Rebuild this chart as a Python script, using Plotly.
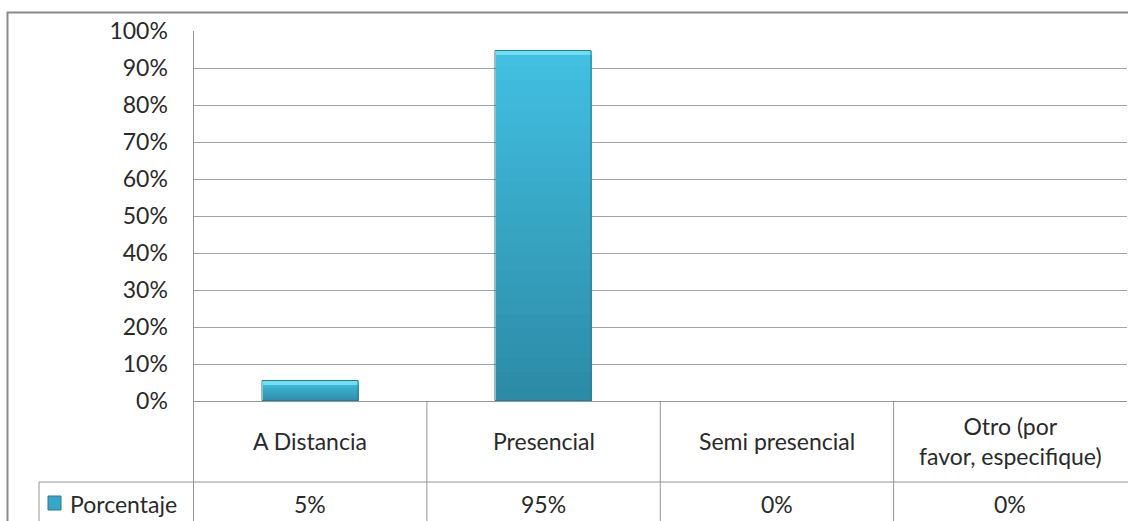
import plotly.graph_objects as go

categories = ["A Distancia", "Presencial", "Semi presencial", "Otro (por<br>favor, especifique)"]
values = [5.4, 94.6, 0, 0]
series_name = "Porcentaje"
y_ticks = [0, 10, 20, 30, 40, 50, 60, 70, 80, 90, 100]
y_tick_text = [f"{t}%" for t in y_ticks]
value_labels = [f"{round(v)}%" for v in values]

W, H = 1128, 521
FONT = "Lato"
TXT = "#2a2a2a"
GRID = "#A3A3A3"
LINE = "#959595"
BAR = "#37A7C7"
BAR_EDGE = "#2A7A90"
TOP_RGB = (66, 192, 226)
BOT_RGB = (44, 138, 165)
CAP_COLOR = "#6EDEF3"
BAR_W = 0.41

idx = list(range(len(categories)))
cap = 1.0
n_slices = 24

fig = go.Figure()

# gradient body of each bar: the bar is split into equal slices of its own value
for k in range(n_slices):
    t = (k + 0.5) / n_slices
    rgb = tuple(round(BOT_RGB[j] + (TOP_RGB[j] - BOT_RGB[j]) * t) for j in range(3))
    fig.add_trace(go.Bar(
        x=idx, y=[v / n_slices for v in values],
        base=[v * k / n_slices for v in values],
        width=BAR_W, marker=dict(color=f"rgb{rgb}", line=dict(width=0)),
        showlegend=False, hoverinfo="skip",
    ))

# top bevel
pos = [i for i, v in zip(idx, values) if v > 0]
fig.add_trace(go.Bar(
    x=pos, y=[cap for v in values if v > 0],
    base=[v - cap for v in values if v > 0],
    width=BAR_W, marker=dict(color=CAP_COLOR, line=dict(width=0)),
    showlegend=False, hoverinfo="skip",
))

# outline of the series bars
fig.add_trace(go.Bar(
    x=idx, y=values, width=BAR_W, name=series_name,
    marker=dict(color="rgba(0,0,0,0)",
                line=dict(color=BAR_EDGE, width=[1 if v > 0 else 0 for v in values])),
    showlegend=False,
))

x0p, x1p = 193.5 / W, 1127 / W
y0p, y1p = (H - 401.3) / H, (H - 31) / H
row1_bottom = (H - 482) / H
row2_mid = (H - 504) / H

fig.update_layout(
    width=W, height=H, margin=dict(l=0, r=0, t=0, b=0, autoexpand=False),
    paper_bgcolor="white", plot_bgcolor="white",
    barmode="overlay", bargap=0,
    font=dict(family=FONT, size=23, color=TXT),
    xaxis=dict(domain=[x0p, x1p], range=[-0.5, 3.5], showticklabels=False,
               showgrid=False, zeroline=False, showline=True, linecolor=LINE,
               linewidth=1, fixedrange=True, automargin=False),
    yaxis=dict(domain=[y0p, y1p], range=[0, 100], tickvals=y_ticks,
               ticktext=y_tick_text, showgrid=True, gridcolor=GRID, gridwidth=1,
               zeroline=False, showline=True, linecolor=LINE, linewidth=1,
               ticks="", ticklabelstandoff=20, tickfont=dict(size=23, color=TXT),
               fixedrange=True, automargin=False),
    showlegend=False,
)

# category labels and values in data table
for i, c in enumerate(categories):
    fig.add_annotation(x=i, y=(H - 441) / H, xref="x", yref="paper", text=c,
                       showarrow=False, font=dict(size=23, color=TXT),
                       align="center", yanchor="middle")
    fig.add_annotation(x=i, y=row2_mid, xref="x", yref="paper",
                       text=value_labels[i], showarrow=False,
                       font=dict(size=23, color=TXT), yanchor="middle")

# legend key of the data table
fig.add_shape(type="rect", xref="paper", yref="paper", x0=48 / W, x1=61 / W,
              y0=(H - 510) / H, y1=(H - 496) / H,
              fillcolor=BAR, line=dict(color=BAR_EDGE, width=1))
fig.add_annotation(x=68 / W, y=row2_mid, xref="paper", yref="paper",
                   text=series_name, showarrow=False, xanchor="left",
                   yanchor="middle", font=dict(size=23, color=TXT))

# table lines
fig.add_shape(type="line", xref="paper", yref="paper", x0=39 / W, x1=1.0,
              y0=row1_bottom, y1=row1_bottom, line=dict(color=LINE, width=1))
fig.add_shape(type="line", xref="paper", yref="paper", x0=x0p, x1=x0p,
              y0=-0.01, y1=y0p, line=dict(color=LINE, width=1))
fig.add_shape(type="line", xref="paper", yref="paper", x0=39 / W, x1=39 / W,
              y0=-0.01, y1=row1_bottom, line=dict(color=LINE, width=1))
for b in [0.5, 1.5, 2.5]:
    fig.add_shape(type="line", xref="x", yref="paper", x0=b, x1=b,
                  y0=-0.01, y1=y0p, line=dict(color=LINE, width=1))

# outer chart border
fig.add_shape(type="rect", xref="paper", yref="paper", x0=7.5 / W, x1=1.02,
              y0=-0.05, y1=(H - 12.5) / H, line=dict(color="#8A8A8A", width=2))

fig.write_html("out.html")
